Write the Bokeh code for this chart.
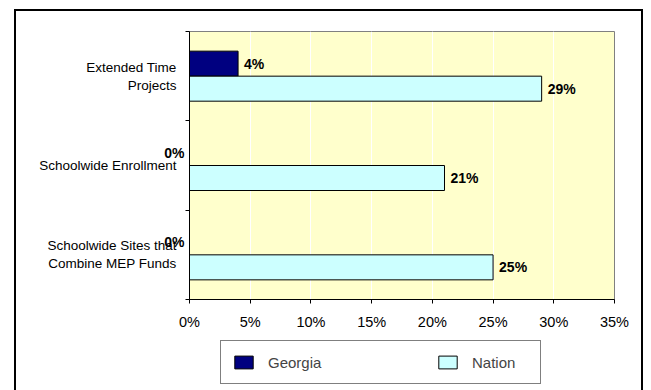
from bokeh.plotting import figure
from bokeh.layouts import column
from bokeh.models import (ColumnDataSource, Range1d, FixedTicker, NumeralTickFormatter,
                          LabelSet, Legend, LegendItem, LinearAxis)
from bokeh.core.properties import value
from bokeh.embed import file_html
from bokeh.resources import INLINE

# ---- data ----
categories = ["Extended Time\nProjects", "Schoolwide Enrollment",
              "Schoolwide Sites that\nCombine MEP Funds"]
georgia = [0.04, 0.00, 0.00]
nation = [0.29, 0.21, 0.25]
series_names = ["Georgia", "Nation"]
series_colors = ["#000080", "#CCFFFF"]
x_ticks = [0.0, 0.05, 0.10, 0.15, 0.20, 0.25, 0.30, 0.35]

FONT = "Liberation Sans"
n = len(categories)
centers = [n - i - 0.5 for i in range(n)]
bar_h = 0.28
off = bar_h / 2

g_y = [c + off for c in centers]
n_y = [c - off for c in centers]
src_g = ColumnDataSource(dict(y=g_y, right=georgia))
src_n = ColumnDataSource(dict(y=n_y, right=nation))

p = figure(width=629, height=327, output_backend="svg", toolbar_location=None,
           x_range=Range1d(0, x_ticks[-1]), y_range=Range1d(0, n),
           min_border_left=175, min_border_right=29, min_border_top=22, min_border_bottom=37)
p.border_fill_color = None
p.background_fill_color = "#FFFFCC"
p.outline_line_color = "#808080"

rg = p.hbar(y="y", left=0, right="right", height=bar_h, source=src_g,
            fill_color=series_colors[0], line_color="black", line_width=1)
rn = p.hbar(y="y", left=0, right="right", height=bar_h, source=src_n,
            fill_color=series_colors[1], line_color="black", line_width=1)

# x axis
xt = FixedTicker(ticks=x_ticks, minor_ticks=[])
p.xaxis.ticker = xt
p.xaxis.formatter = NumeralTickFormatter(format="0%")
p.xaxis.major_label_text_font = FONT
p.xaxis.major_label_text_font_size = "14.5px"
p.xaxis.major_label_text_color = "black"
p.xaxis.major_tick_out = 4
p.xaxis.major_tick_in = 0
p.xaxis.minor_tick_line_color = None
p.xaxis.major_label_standoff = 10
p.xaxis.axis_line_color = "black"
p.xaxis.major_tick_line_color = "black"

p.xgrid.ticker = xt
p.xgrid.grid_line_color = "white"
p.xgrid.grid_line_width = 1
p.ygrid.grid_line_color = None

# inner y axis: axis line, tick marks at band edges, and the "0%" labels of zero-length bars
zero_pos = [yy for v, yy in zip(georgia, g_y) if v == 0] + [yy for v, yy in zip(nation, n_y) if v == 0]
yt = FixedTicker(ticks=zero_pos, minor_ticks=[float(k) for k in range(n + 1)])
yin = p.yaxis[0]
yin.ticker = yt
yin.major_label_overrides = {yy: "0%" for yy in zero_pos}
yin.major_label_text_font = FONT
yin.major_label_text_font_size = "14px"
yin.major_label_text_font_style = "bold"
yin.major_label_text_color = "black"
yin.major_tick_line_color = None
yin.major_tick_out = 0
yin.major_tick_in = 0
yin.minor_tick_line_color = "black"
yin.minor_tick_out = 4
yin.minor_tick_in = 0
yin.major_label_standoff = 1
yin.axis_line_color = "black"

# outer y axis: category names
yout = LinearAxis(ticker=FixedTicker(ticks=centers, minor_ticks=[]))
yout.major_label_overrides = {c: lab for c, lab in zip(centers, categories)}
yout.major_label_text_font = FONT
yout.major_label_text_font_size = "13.5px"
yout.major_label_text_color = "black"
yout.major_tick_line_color = None
yout.minor_tick_line_color = None
yout.major_tick_out = 0
yout.major_tick_in = 0
yout.minor_tick_out = 0
yout.minor_tick_in = 0
yout.axis_line_color = None
yout.major_label_standoff = -15
p.add_layout(yout, "left")

# value labels for non-zero bars
lab_x, lab_y, lab_t = [], [], []
for vals, ys in ((georgia, g_y), (nation, n_y)):
    for v, yy in zip(vals, ys):
        if v > 0:
            lab_x.append(v)
            lab_y.append(yy)
            lab_t.append(f"{round(v * 100)}%")
lsrc = ColumnDataSource(dict(x=lab_x, y=lab_y, t=lab_t))
labels = LabelSet(x="x", y="y", text="t", source=lsrc, text_align="left", x_offset=6,
                  text_baseline="middle", text_font=value(FONT), text_font_size=value("14px"),
                  text_font_style="bold", text_color="black")
p.add_layout(labels)

# legend strip (separate small canvas below the chart; its renderers are hidden)
q = figure(width=629, height=54, output_backend="svg", toolbar_location=None,
           x_axis_location=None, y_axis_location=None,
           x_range=Range1d(0, x_ticks[-1]), y_range=Range1d(0, n),
           min_border_left=0, min_border_right=0, min_border_top=0, min_border_bottom=0)
q.border_fill_color = None
q.background_fill_color = None
q.outline_line_color = None
q.grid.grid_line_color = None
lg_rs = [q.hbar(y="y", left=0, right="right", height=bar_h, source=s,
                fill_color=c, line_color="black", line_width=1, visible=False)
         for s, c in zip((src_g, src_n), series_colors)]
legend = Legend(items=[LegendItem(label=nm, renderers=[r]) for nm, r in zip(series_names, lg_rs)],
                orientation="horizontal", location=(31, 6),
                glyph_width=23, glyph_height=16, label_standoff=13, spacing=111,
                padding=11, margin=0, label_width=57, label_height=20,
                label_text_font=FONT, label_text_font_size="15px",
                border_line_color="black", border_line_width=1,
                background_fill_color="white", background_fill_alpha=1,
                inactive_fill_alpha=0, click_policy="none")
q.add_layout(legend)

layout = column(p, q, spacing=0)
layout.margin = (9, 0, 0, 14)
layout.styles = {"box-shadow": "inset 2px 2px 0 0 black, inset -2px 0 0 0 black"}

open("out.html", "w").write(file_html(layout, INLINE))
